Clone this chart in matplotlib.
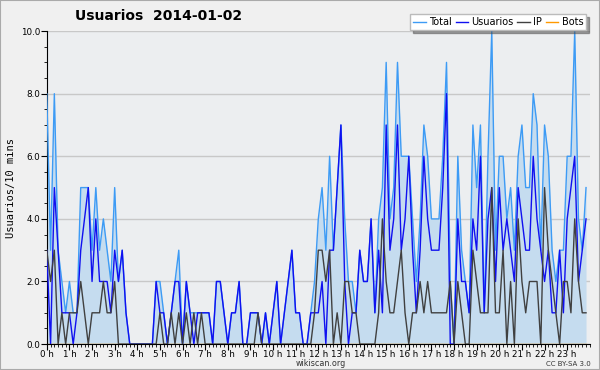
import numpy as np
import matplotlib
matplotlib.use('Agg')
import matplotlib.pyplot as plt
from matplotlib.patches import Rectangle

# 10-minute samples for 2014-01-02, one row per hour
total = [
    8, 3, 8, 3, 2, 1,
    2, 1, 1, 5, 5, 5,
    3, 5, 3, 4, 3, 2,
    5, 2, 3, 1, 0, 0,
    0, 0, 0, 0, 0, 2,
    2, 1, 0, 1, 2, 3,
    0, 2, 1, 1, 1, 1,
    1, 1, 0, 2, 2, 1,
    0, 1, 1, 2, 0, 0,
    1, 1, 1, 0, 1, 0,
    1, 2, 0, 1, 2, 3,
    1, 1, 0, 0, 1, 2,
    4, 5, 3, 6, 3, 5,
    7, 4, 2, 2, 1, 3,
    2, 2, 4, 1, 4, 5,
    9, 4, 5, 9, 6, 6,
    6, 4, 2, 4, 7, 6,
    4, 4, 4, 6, 9, 2,
    0, 6, 3, 2, 1, 7,
    5, 7, 1, 6, 10, 3,
    6, 6, 4, 5, 3, 6,
    7, 5, 5, 8, 7, 3,
    7, 6, 3, 2, 3, 3,
    6, 6, 10, 4, 3, 5,
]
usuarios = [
    3, 0, 5, 3, 1, 1,
    1, 0, 1, 3, 4, 5,
    2, 4, 2, 2, 2, 1,
    3, 2, 3, 1, 0, 0,
    0, 0, 0, 0, 0, 2,
    1, 1, 0, 1, 2, 2,
    0, 2, 1, 0, 1, 1,
    1, 1, 0, 2, 2, 1,
    0, 1, 1, 2, 0, 0,
    1, 1, 1, 0, 1, 0,
    1, 2, 0, 1, 2, 3,
    1, 1, 0, 0, 1, 1,
    1, 2, 0, 3, 3, 5,
    7, 2, 0, 1, 1, 3,
    2, 2, 4, 1, 3, 1,
    7, 3, 4, 7, 3, 4,
    6, 3, 1, 3, 6, 4,
    3, 3, 3, 5, 8, 0,
    0, 4, 2, 2, 1, 4,
    3, 6, 1, 4, 5, 2,
    5, 3, 4, 3, 2, 5,
    4, 3, 3, 6, 4, 3,
    2, 3, 1, 1, 3, 1,
    4, 5, 6, 2, 3, 4,
]
ip = [
    3, 2, 3, 0, 1, 0,
    1, 1, 1, 2, 1, 0,
    1, 1, 1, 2, 1, 1,
    2, 0, 0, 0, 0, 0,
    0, 0, 0, 0, 0, 0,
    1, 0, 0, 1, 0, 1,
    0, 1, 0, 1, 0, 1,
    0, 0, 0, 0, 0, 0,
    0, 0, 0, 0, 0, 0,
    0, 0, 1, 0, 0, 0,
    0, 0, 0, 0, 0, 0,
    0, 0, 0, 0, 0, 1,
    3, 3, 2, 3, 0, 1,
    0, 2, 2, 1, 1, 0,
    0, 0, 0, 0, 1, 4,
    2, 1, 1, 2, 3, 1,
    0, 1, 1, 2, 1, 2,
    1, 1, 1, 1, 1, 2,
    0, 2, 1, 0, 0, 3,
    2, 1, 1, 1, 5, 1,
    1, 3, 0, 2, 0, 4,
    2, 1, 2, 2, 2, 0,
    5, 3, 2, 1, 0, 2,
    2, 1, 4, 2, 1, 1,
]
bots = [0] * 144
hour_labels = ['%d h' % h for h in range(24)]

x = np.arange(len(total))

fig = plt.figure(figsize=(6, 3.7), dpi=100, facecolor='#f0f0f0')
fig.patches.append(Rectangle((0, 0), 1, 1, transform=fig.transFigure,
                             fill=False, edgecolor='#aaaaaa', linewidth=1.5))
ax = fig.add_axes([0.078, 0.070, 0.905, 0.846])
ax.set_facecolor('#eceef0')

ax.fill_between(x, 0, total, color='#c5dcef', linewidth=0)
ax.plot(x, bots, color='#ff9900', lw=1, label='Bots', zorder=2)
ax.plot(x, total, color='#3d9bf5', lw=1, label='Total', zorder=3)
ax.plot(x, usuarios, color='#1010f0', lw=1, label='Usuarios', zorder=4)
ax.plot(x, ip, color='#404040', lw=1, label='IP', zorder=5)

ax.set_xlim(0, 144)
ax.set_ylim(0, 10)
ax.set_yticks(np.arange(0, 10.1, 2))
ax.set_yticklabels(['%.1f' % v for v in np.arange(0, 10.1, 2)])
ax.set_yticks(np.arange(0, 10.1, 0.5), minor=True)
ax.set_xticks(np.arange(0, 144, 6))
ax.set_xticklabels(hour_labels)
ax.set_xticks(np.arange(0, 145, 1), minor=True)
ax.yaxis.grid(True, color='#c8c8c8', lw=1)
ax.set_axisbelow(True)
ax.tick_params(axis='both', which='major', labelsize=6.3, length=4, width=0.8,
               pad=0.5, colors='black')
ax.tick_params(axis='both', which='minor', length=2.5, width=0.6)
for s in ['top', 'right']:
    ax.spines[s].set_visible(False)

ax.set_ylabel('Usuarios/10 mins', family='DejaVu Sans Mono', fontsize=7.5, labelpad=4)
fig.text(0.125, 0.945, 'Usuarios  2014-01-02', fontsize=10, fontweight='bold')
fig.text(0.535, 0.012, 'wikiscan.org', fontsize=5.8, ha='center', color='#333333')
fig.text(0.985, 0.012, 'CC BY-SA 3.0', fontsize=5, ha='right', color='#333333')

h = {l.get_label(): l for l in ax.get_lines()}
leg = fig.legend([h['Total'], h['Usuarios'], h['IP'], h['Bots']],
                 ['Total', 'Usuarios', 'IP', 'Bots'], ncol=4,
                 loc='upper right', bbox_to_anchor=(0.985, 0.975),
                 fontsize=7, handlelength=1.3, handletextpad=0.35,
                 columnspacing=0.35, borderpad=0.3, fancybox=False,
                 shadow=True, framealpha=1, edgecolor='#bbbbbb')

fig.savefig('out.png', dpi=100, facecolor=fig.get_facecolor())
